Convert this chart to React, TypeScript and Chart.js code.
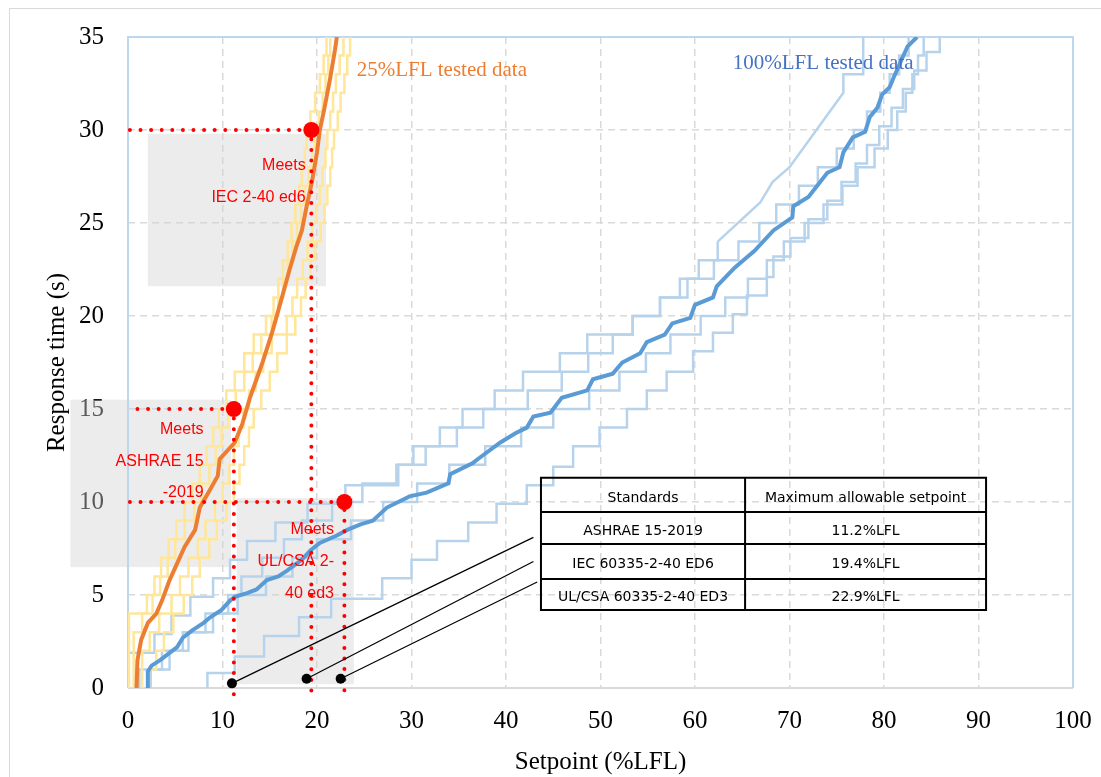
import React, { useEffect, useRef } from "react";
import { Chart, registerables } from "chart.js";

Chart.register(...registerables);

type P = [number, number];

// ---------- axes ----------
const xMin = 0, xMax = 100, xStep = 10;
const yMin = 0, yMax = 35, yStep = 5;
const xTitle = "Setpoint (%LFL)";
const yTitle = "Response time (s)";

// ---------- 25%LFL tested data ----------
const orangeAvg: P[] = [
  [0.9, 0], [1.0, 1.5], [1.4, 2.6], [2.1, 3.5], [3.0, 4.0], [3.6, 4.7], [4.4, 5.8], [5.2, 6.7],
  [6.0, 7.6], [7.1, 8.5], [7.6, 9.7], [8.5, 10.5], [9.5, 11.4], [9.7, 12.3], [11.3, 13.2],
  [12.1, 14.2], [12.9, 15.6], [13.6, 16.6], [14.3, 17.6], [15.3, 19.2], [16.4, 21.2], [17.1, 22.5],
  [17.8, 23.7], [18.4, 24.6], [18.9, 25.9], [19.5, 27.3], [20.0, 28.8], [20.3, 30.0], [20.8, 31.2],
  [21.4, 32.8], [21.9, 34.3], [22.1, 35],
];
const yellow1: P[] = [
  [0.1, 0], [0.1, 4], [2.0, 5], [2.8, 6], [3.5, 7], [4.3, 8], [5.1, 9], [6.0, 10], [6.8, 11],
  [7.6, 12], [8.3, 13], [9.0, 14], [9.6, 15], [10.4, 16], [11.3, 17], [12.3, 18], [13.3, 19],
  [14.6, 20], [15.4, 21], [15.9, 22], [16.4, 23], [16.9, 24], [17.3, 25], [17.7, 26], [18.1, 27],
  [18.4, 28], [18.7, 29], [18.9, 30], [19.3, 31], [19.8, 32], [20.3, 33], [20.7, 34], [21.0, 35],
];
const yellow2: P[] = [
  [0.6, 0], [0.6, 3], [1.5, 4], [2.6, 5], [3.4, 6], [4.2, 7], [5.0, 8], [6.0, 9], [7.0, 10],
  [7.8, 11], [8.6, 12], [9.3, 13], [9.9, 14], [10.6, 15], [11.4, 16], [12.3, 17], [13.2, 18],
  [14.1, 19], [15.2, 20], [15.9, 21], [16.4, 22], [16.9, 23], [17.4, 24], [17.9, 25], [18.3, 26],
  [18.7, 27], [19.1, 28], [19.5, 29], [19.8, 30], [20.2, 31], [20.6, 32], [20.9, 33], [21.2, 34],
  [21.4, 35],
];
const yellow3: P[] = [
  [1.5, 0], [1.5, 2], [2.3, 3], [3.3, 4], [4.6, 5], [5.5, 6], [6.4, 7], [7.4, 8], [8.2, 9],
  [9.2, 10], [10.0, 11], [10.7, 12], [11.2, 13], [11.7, 14], [12.2, 15], [12.8, 16], [13.5, 17],
  [14.3, 18], [15.2, 19], [16.8, 20], [17.4, 21], [17.9, 22], [18.5, 23], [19.0, 24], [19.5, 25],
  [19.9, 26], [20.3, 27], [20.6, 28], [20.9, 29], [21.1, 30], [21.4, 31], [21.7, 32], [22.0, 33],
  [22.4, 34], [22.8, 35],
];
const yellow4: P[] = [
  [2.2, 0], [2.2, 1], [3.0, 2], [3.8, 3], [4.8, 4], [5.9, 5], [6.8, 6], [7.6, 7], [8.6, 8],
  [9.4, 9], [10.4, 10], [11.2, 11], [11.8, 12], [12.3, 13], [12.8, 14], [13.3, 15], [14.1, 16],
  [15.0, 17], [15.8, 18], [16.8, 19], [17.7, 20], [18.3, 21], [18.8, 22], [19.3, 23], [19.8, 24],
  [20.4, 25], [20.8, 26], [21.1, 27], [21.4, 28], [21.6, 29], [21.8, 30], [22.2, 31], [22.5, 32],
  [22.9, 33], [23.2, 34], [23.5, 35],
];

// ---------- 100%LFL tested data ----------
const blueAvg: P[] = [
  [2.1, 0], [2.1, 0.9], [2.5, 1.2], [3.4, 1.5], [5.2, 2.2], [5.8, 2.7], [6.8, 3.1], [8.0, 3.5],
  [8.7, 3.8], [9.9, 4.2], [10.8, 4.7], [11.3, 4.9], [12.6, 5.1], [13.6, 5.3], [14.7, 5.8],
  [15.9, 6.0], [16.8, 6.3], [18.4, 6.9], [19.3, 7.4], [20.3, 7.8], [22.1, 8.2], [23.2, 8.5],
  [24.6, 8.8], [25.9, 9.0], [27.4, 9.7], [29.8, 10.3], [31.6, 10.5], [33.9, 11.0], [34.1, 11.5],
  [36.5, 12.1], [37.0, 12.3], [39.4, 13.2], [41.0, 13.7], [42.2, 14.0], [42.9, 14.6], [44.7, 14.8],
  [45.9, 15.6], [48.6, 16.0], [49.2, 16.6], [51.3, 16.9], [52.3, 17.5], [54.2, 18.0], [54.9, 18.6],
  [56.8, 19.0], [57.6, 19.6], [59.5, 19.9], [60.0, 20.6], [61.9, 21.0], [62.3, 21.6], [64.2, 22.6],
  [66.3, 23.5], [68.3, 24.6], [70.3, 25.3], [70.4, 25.9], [72.0, 26.4], [74.0, 27.7], [75.3, 28.0],
  [75.7, 28.8], [76.7, 29.6], [78.0, 29.9], [78.5, 30.7], [79.3, 31.2], [79.8, 31.9], [80.6, 32.3],
  [81.0, 32.8], [81.7, 33.6], [82.5, 34.5], [83.5, 35.0],
];
const lightBlue1: P[] = [
  [0.0, 0], [0.0, 1.9], [2.8, 2.9], [4.6, 3.9], [6.6, 4.9], [9.0, 5.9], [10.8, 6.9], [12.6, 7.9],
  [15.6, 8.9], [19.0, 9.9], [23.0, 10.9], [28.6, 12.0], [30.2, 13.0], [33.0, 14.0], [35.4, 15.0],
  [38.8, 16.0], [41.8, 17.0], [45.7, 18.0], [48.6, 19.0], [53.4, 20.0], [56.3, 21.0], [58.4, 22.0],
  [60.4, 23.0], [62.4, 24.0],
];
const lightBlue1Top: P[] = [
  [62.4, 24.0], [66.9, 26.1], [68.2, 27.2], [70.0, 28.0], [75.7, 32.0], [75.7, 33.0], [77.8, 33.0], [77.8, 35.0],
];
const lightBlue2: P[] = [
  [1.2, 0], [1.2, 1.0], [3.6, 2.0], [5.8, 3.0], [8.2, 4.0], [10.6, 5.0], [12.0, 6.0], [14.2, 7.0],
  [16.5, 8.0], [18.4, 9.0], [21.6, 10.0], [24.8, 11.0], [28.4, 12.0], [31.5, 13.0], [34.8, 14.0],
  [37.6, 15.0], [42.3, 16.0], [45.9, 17.0], [48.7, 18.0], [51.3, 19.0], [53.4, 20.0], [56.3, 21.0],
  [59.2, 22.0], [62.0, 23.0], [64.6, 24.0], [66.8, 25.0], [68.6, 26.0], [71.0, 27.0], [73.0, 28.0],
  [75.0, 29.0], [76.8, 30.0], [78.2, 31.0], [79.6, 32.0], [80.6, 33.0], [81.6, 34.0], [82.6, 35.0],
];
const lightBlue3: P[] = [
  [2.4, 0], [2.4, 1.0], [4.4, 2.0], [6.4, 3.0], [9.0, 4.0], [11.6, 5.0], [14.6, 6.0], [17.4, 7.0],
  [20.0, 8.0], [23.6, 9.0], [27.0, 10.0], [30.6, 11.0], [34.0, 12.0], [37.8, 13.0], [41.6, 14.0],
  [45.0, 15.0], [48.8, 16.0], [52.0, 17.0], [54.8, 18.0], [57.4, 19.0], [60.6, 20.0], [63.2, 21.0],
  [65.6, 22.0], [67.6, 23.0], [69.4, 24.0], [71.6, 25.0], [73.6, 26.0], [75.6, 27.0], [77.2, 28.0],
  [79.0, 29.0], [80.4, 30.0], [81.4, 31.0], [82.3, 32.0], [83.0, 33.0], [83.6, 34.0], [84.2, 35.0],
];
const lightBlue4: P[] = [
  [8.4, 0], [8.4, 0.8], [11.3, 1.7], [14.4, 2.8], [18.1, 3.8], [21.5, 4.8], [26.9, 5.9], [30.0, 6.9],
  [32.7, 7.9], [36.0, 8.9], [39.0, 9.9], [42.2, 10.9], [45.0, 11.9], [47.1, 13.0], [49.9, 14.0],
  [52.8, 15.0], [54.9, 16.0], [57.0, 17.0], [59.8, 18.1], [61.9, 19.1], [64.0, 20.1], [65.5, 21.1],
  [67.6, 22.1], [68.3, 23.2], [70.1, 24.2], [72.0, 25.2], [74.0, 26.2], [75.5, 27.2], [77.0, 28.2],
  [78.2, 29.2], [79.5, 30.2], [80.8, 31.2], [82.0, 32.2], [83.2, 33.2], [84.5, 34.2], [85.9, 35.0],
];

// ---------- standards ----------
const standards = ["ASHRAE 15-2019", "IEC 60335-2-40 ED6", "UL/CSA 60335-2-40 ED3"];
const maxSetpointLabels = ["11.2%LFL", "19.4%LFL", "22.9%LFL"];
const maxSetpoint = [11.2, 19.4, 22.9];
const requiredTime = [15, 30, 10];
const guideStartX = [1.0, 0.2, 0.2];
const meetsText = [["Meets", "ASHRAE 15", "-2019"], ["Meets", "IEC 2-40 ed6"], ["Meets", "UL/CSA 2-", "40 ed3"]];
const meetsAnchor: P[] = [[8.0, 13.9], [18.8, 28.1], [21.8, 8.5]];
const shadeBoxes: [number, number, number, number][] = [
  [-6.1, 10.9, 6.5, 15.5],
  [2.1, 20.95, 21.6, 29.8],
  [11.5, 23.9, 0.2, 10.2],
];
const leaderStart: P[] = [[11.0, 0.25], [18.9, 0.5], [22.5, 0.5]];
const leaderEnd: P[] = [[42.9, 8.1], [42.9, 6.8], [43.3, 5.7]];
const tableHeader = ["Standards", "Maximum allowable setpoint"];
const tableCols = [43.7, 65.3, 90.8];
const tableRows = [11.3, 9.46, 7.74, 5.86, 4.2];
const seriesLabels = ["25%LFL tested data", "100%LFL tested data"];
const seriesLabelAt: P[] = [[24.2, 33.2], [64.0, 33.6]];

const ORANGE = "#ED7D31";
const YELLOW = "#FFE699";
const BLUE = "#5B9BD5";
const LIGHTBLUE = "#B7D3EC";
const SERIF = "'Liberation Serif', 'Times New Roman', serif";

const pts = (a: P[]) => a.map(([x, y]) => ({ x, y }));

export default function App() {
  const ref = useRef<HTMLCanvasElement>(null);

  useEffect(() => {
    const canvas = ref.current!;
    const stepLine = (data: P[], color: string, width: number, order: number, stepped: any = "before") => ({
      data: pts(data),
      borderColor: color,
      borderWidth: width,
      pointRadius: 0,
      stepped,
      tension: 0,
      fill: false,
      order,
    });

    const datasets: any[] = [];
    [lightBlue1, lightBlue2, lightBlue3, lightBlue4].forEach((d) => datasets.push(stepLine(d, LIGHTBLUE, 2.5, 20)));
    datasets.push(stepLine(lightBlue1Top, LIGHTBLUE, 2.5, 20, false));
    [yellow1, yellow2, yellow3, yellow4].forEach((d) => datasets.push(stepLine(d, YELLOW, 2.5, 19)));
    datasets.push(stepLine(blueAvg, BLUE, 4, 15, false));
    datasets.push(stepLine(orangeAvg, ORANGE, 4, 14, false));

    // red dotted guide lines
    maxSetpoint.forEach((s, i) => {
      datasets.push({
        data: pts([[guideStartX[i], requiredTime[i]], [s, requiredTime[i]], [s, -0.45]]),
        borderColor: "#FF0000",
        borderWidth: 4,
        borderDash: [0, 10.6],
        borderCapStyle: "round",
        pointRadius: 0,
        fill: false,
        clip: false,
        order: 6,
      });
    });
    // red markers
    datasets.push({
      data: pts(maxSetpoint.map((s, i) => [s, requiredTime[i]] as P)),
      showLine: false,
      pointRadius: 8,
      pointBackgroundColor: "#FF0000",
      pointBorderWidth: 0,
      order: 5,
    });
    // leader lines
    leaderStart.forEach((p, i) => {
      datasets.push({
        data: pts([p, leaderEnd[i]]),
        borderColor: "#000000",
        borderWidth: 1.2,
        pointRadius: [5, 0],
        pointBackgroundColor: "#000000",
        pointBorderWidth: 0,
        fill: false,
        clip: false,
        order: 4,
      });
    });

    const deco = {
      id: "deco",
      beforeDatasetsDraw(chart: any) {
        const { ctx, chartArea: a, scales } = chart;
        const xs = scales.x, ys = scales.y;
        ctx.save();
        ctx.fillStyle = "rgba(210,210,210,0.42)";
        shadeBoxes.forEach(([x0, x1, y0, y1]) => {
          const px0 = xs.getPixelForValue(x0), px1 = xs.getPixelForValue(x1);
          const py0 = ys.getPixelForValue(y0), py1 = ys.getPixelForValue(y1);
          ctx.fillRect(px0, py1, px1 - px0, py0 - py1);
        });
        // plot area border
        ctx.strokeStyle = "#BDD7EE";
        ctx.lineWidth = 2;
        ctx.beginPath();
        ctx.moveTo(a.left, a.bottom);
        ctx.lineTo(a.left, a.top);
        ctx.lineTo(a.right, a.top);
        ctx.lineTo(a.right, a.bottom);
        ctx.stroke();
        ctx.strokeStyle = "#D9D9D9";
        ctx.lineWidth = 2;
        ctx.beginPath();
        ctx.moveTo(a.left, a.bottom);
        ctx.lineTo(a.right, a.bottom);
        ctx.stroke();
        ctx.restore();
      },
      afterDatasetsDraw(chart: any) {
        const { ctx, scales } = chart;
        const xs = scales.x, ys = scales.y;
        const X = (v: number) => xs.getPixelForValue(v);
        const Y = (v: number) => ys.getPixelForValue(v);
        ctx.save();
        // "Meets" labels
        ctx.fillStyle = "#FF0000";
        ctx.font = "16px 'Liberation Sans', Arial, sans-serif";
        ctx.textAlign = "right";
        ctx.textBaseline = "middle";
        meetsText.forEach((lines, i) => {
          const [ax, ay] = meetsAnchor[i];
          lines.forEach((t, j) => ctx.fillText(t, X(ax), Y(ay) + j * 31.8));
        });
        // series labels
        ctx.font = "21px " + SERIF;
        ctx.textAlign = "left";
        ctx.fillStyle = ORANGE;
        ctx.fillText(seriesLabels[0], X(seriesLabelAt[0][0]), Y(seriesLabelAt[0][1]));
        ctx.fillStyle = "#4472C4";
        ctx.fillText(seriesLabels[1], X(seriesLabelAt[1][0]), Y(seriesLabelAt[1][1]));
        // table
        const cx = tableCols.map(X);
        const ry = tableRows.map(Y);
        ctx.strokeStyle = "#000";
        ctx.lineWidth = 2;
        ctx.beginPath();
        ry.forEach((y) => { ctx.moveTo(cx[0] - 1, y); ctx.lineTo(cx[2] + 1, y); });
        cx.forEach((x) => { ctx.moveTo(x, ry[0]); ctx.lineTo(x, ry[4]); });
        ctx.stroke();
        ctx.fillStyle = "#000";
        ctx.font = "14px 'DejaVu Sans', Verdana, sans-serif";
        ctx.textAlign = "center";
        const rowText = [tableHeader, ...standards.map((s, i) => [s, maxSetpointLabels[i]])];
        rowText.forEach((r, i) => {
          const y = (ry[i] + ry[i + 1]) / 2 + 3;
          ctx.fillText(r[0], (cx[0] + cx[1]) / 2, y);
          ctx.fillText(r[1], (cx[1] + cx[2]) / 2, y);
        });
        // outer frame
        ctx.strokeStyle = "#D9D9D9";
        ctx.lineWidth = 1;
        ctx.strokeRect(9.5, 8.5, 1200, 900);
        ctx.restore();
      },
    };

    const chart = new Chart(canvas, {
      type: "line",
      data: { datasets },
      options: {
        animation: false,
        responsive: false,
        layout: { padding: { left: 0, right: 28, top: 37, bottom: 0 } },
        plugins: { legend: { display: false }, tooltip: { enabled: false }, title: { display: false } },
        scales: {
          x: {
            type: "linear",
            min: xMin,
            max: xMax,
            afterFit: (s: any) => { s.height = 89; s.paddingLeft = 0; s.paddingRight = 0; },
            ticks: { stepSize: xStep, color: "#000", padding: 18, font: { family: SERIF, size: 25 } },
            grid: {
              drawTicks: false,
              lineWidth: 1.5,
              color: (c: any) => (c.tick && (c.tick.value === xMin || c.tick.value === xMax) ? "rgba(0,0,0,0)" : "#D9D9D9"),
            },
            border: { display: false, dash: [7, 5] },
            title: { display: true, text: xTitle, color: "#000", padding: 0, font: { family: SERIF, size: 25 } },
          },
          y: {
            type: "linear",
            min: yMin,
            max: yMax,
            afterFit: (s: any) => { s.width = 128; s.paddingTop = 0; s.paddingBottom = 0; },
            ticks: { stepSize: yStep, color: "#000", padding: 24, font: { family: SERIF, size: 25 } },
            grid: {
              drawTicks: false,
              lineWidth: 1.5,
              color: (c: any) => (c.tick && (c.tick.value === yMin || c.tick.value === yMax) ? "rgba(0,0,0,0)" : "#D9D9D9"),
            },
            border: { display: false, dash: [7, 5] },
            title: { display: true, text: yTitle, color: "#000", padding: { top: 42, bottom: 0 }, font: { family: SERIF, size: 25 } },
          },
        },
      },
      plugins: [deco],
    });
    return () => chart.destroy();
  }, []);

  return (
    <div style={{ position: "fixed", left: 0, top: 0, width: 1101, height: 777, background: "#fff", overflow: "hidden" }}>
      <canvas ref={ref} width={1101} height={777} style={{ display: "block" }} />
    </div>
  );
}
